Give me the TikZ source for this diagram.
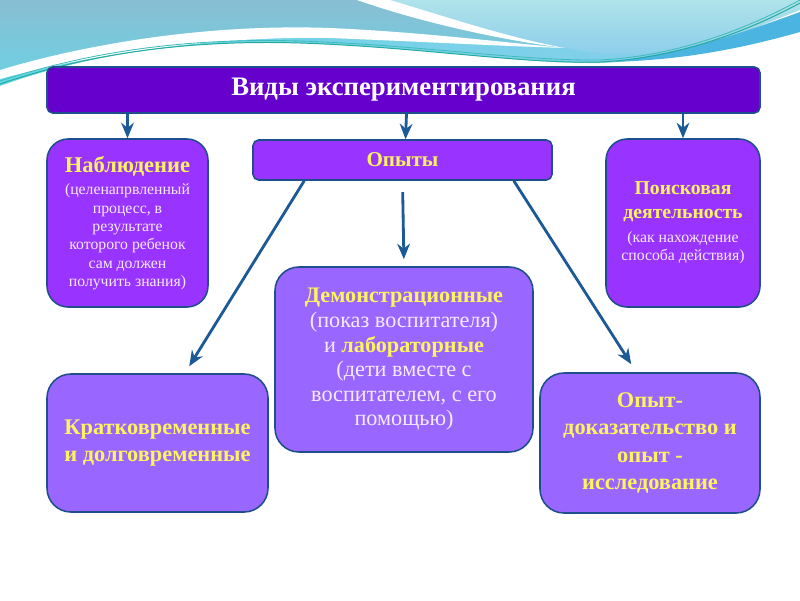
\documentclass[tikz,border=0pt]{standalone}
\usepackage{fontspec}
\setmainfont{Liberation Serif}
\usetikzlibrary{positioning, arrows.meta, calc}
\definecolor{vdark}{HTML}{6600CC}
\definecolor{vmid}{HTML}{9933FF}
\definecolor{vlight}{HTML}{9966FF}
\definecolor{vborder}{HTML}{1F4E8C}
\definecolor{varrow}{HTML}{1B5A96}
\definecolor{vyellow}{HTML}{FFF45C}
\definecolor{vnote}{HTML}{F6EAFF}
\definecolor{wsteel}{HTML}{88BED3}
\definecolor{wcyan}{HTML}{66D6E6}
\definecolor{wlight}{HTML}{B0E3EA}
\definecolor{wsky}{HTML}{8ACDEB}
\definecolor{wblue}{HTML}{4BB4E1}
\definecolor{wline}{HTML}{22AA9C}

\tikzset{
  kindbox/.style={draw=vborder, line width=1.1pt, align=center, inner sep=3pt},
  titlebox/.style={kindbox, fill=vdark, rounded corners=4pt, text=white,
    font=\bfseries\fontsize{19}{22}\selectfont},
  headbox/.style={kindbox, fill=vmid, rounded corners=15pt, text=vnote,
    font=\fontsize{11.2}{13}\selectfont},
  subbox/.style={kindbox, fill=vlight, rounded corners=17pt, text=vyellow,
    font=\bfseries\fontsize{15.9}{19.5}\selectfont},
  link/.style={draw=varrow, line width=2pt, -{Stealth[length=11pt, width=9pt]}},
}

\begin{document}
\begin{tikzpicture}[x=0.025cm, y=-0.025cm]
  \useasboundingbox (0,0) rectangle (800,600);
  \fill[white] (0,0) rectangle (800,600);

  % wave at the top
  \shade[left color=wcyan, right color=wsky]
    (0,0) -- (800,0) -- (800,8) .. controls (750,32) and (680,60) .. (600,63)
    .. controls (520,64) and (420,47) .. (300,43)
    .. controls (200,40) and (100,50) .. (0,86) -- cycle;
  \shade[top color=wsteel, bottom color=wcyan!70!wsteel]
    (0,0) -- (357,0) .. controls (420,22) and (500,40) .. (565,48)
    .. controls (500,42) and (420,32) .. (330,28)
    .. controls (220,24) and (100,40) .. (0,70) -- cycle;
  \fill[white]
    (0,70) .. controls (100,40) and (220,24) .. (330,28)
    .. controls (420,32) and (500,42) .. (565,48)
    .. controls (500,46) and (430,42) .. (330,38)
    .. controls (220,36) and (100,52) .. (0,79) -- cycle;
  \shade[top color=wlight, bottom color=wsky]
    (390,0) .. controls (450,18) and (510,38) .. (565,48)
    .. controls (610,57) and (650,56) .. (680,50)
    .. controls (730,38) and (770,22) .. (800,10) -- (800,0) -- cycle;
  \fill[white]
    (357,0) -- (390,0) .. controls (450,18) and (510,38) .. (565,48)
    .. controls (500,40) and (420,22) .. (357,0);
  \fill[wblue]
    (610,62) .. controls (690,52) and (750,30) .. (800,12) -- (800,32)
    .. controls (750,46) and (690,60) .. (610,62);
  \draw[wline, line width=0.7pt]
    (0,84) .. controls (100,50) and (200,40) .. (300,43)
    .. controls (420,47) and (520,64) .. (600,62)
    .. controls (680,58) and (750,30) .. (800,3);
  \draw[wline!60!wcyan, line width=0.6pt]
    (0,81) .. controls (100,48) and (200,38) .. (300,41)
    .. controls (420,45) and (520,61) .. (600,60)
    .. controls (680,56) and (750,27) .. (800,0);

  % boxes
  \node[titlebox, minimum width=713*0.025cm, minimum height=46*0.025cm]
    (kinds) at (403.5,90) {Виды экспериментирования};

  \node[headbox, minimum width=161*0.025cm, minimum height=168*0.025cm]
    (watch) at (127.5,223)
    {{\fontsize{16}{18}\selectfont\textcolor{vyellow}{\textbf{Наблюдение}}}\\[3pt]
     (целенапрвленный\\ процесс, в\\ результате\\ которого ребенок\\
     сам должен\\ получить знания)};

  \node[headbox, rounded corners=4pt, text=vyellow,
        font=\bfseries\fontsize{15}{18}\selectfont,
        minimum width=299*0.025cm, minimum height=40*0.025cm]
    (tests) at (402.5,160) {Опыты};

  \node[headbox, minimum width=154*0.025cm, minimum height=168*0.025cm]
    (search) at (683,223)
    {{\fontsize{14}{16.5}\selectfont\textcolor{vyellow}{\textbf{Поисковая}}}\\[4pt]
     {\fontsize{14}{16.5}\selectfont\textcolor{vyellow}{\textbf{деятельность}}}\\[4pt]
     (как нахождение\\ способа действия)};

  \node[subbox, text=vnote, font=\fontsize{15.8}{17.5}\selectfont,
        minimum width=258*0.025cm, minimum height=185*0.025cm]
    (demo) at (404,359.5)
    {\textcolor{vyellow}{\textbf{Демонстрационные}}\\
     (показ воспитателя)\\ и \textcolor{vyellow}{\textbf{лабораторные}}\\
     (дети вместе с\\ воспитателем, с его\\ помощью)};

  \node[subbox, minimum width=221*0.025cm, minimum height=138*0.025cm]
    (span) at (157.5,443) {Кратковременные\\ и долговременные};

  \node[subbox, minimum width=220*0.025cm, minimum height=140*0.025cm]
    (proof) at (650,443) {Опыт-\\ доказательство и\\ опыт -\\ исследование};

  % connectors
  \draw[link] (kinds.south -| watch.north) -- (watch.north);
  \draw[link] ($(kinds.south)+(3,0)$) -- ($(tests.north)+(3,0)$);
  \draw[link] (kinds.south -| search.north) -- (search.north);
  \draw[link, shorten <=8pt, shorten >=5pt] (tests.south) -- (demo.north);
  \draw[link] ($(tests.south west)+(52,0)$) -- ($(span.north west)+(143,-7)$);
  \draw[link] ($(tests.south east)+(-39,0)$) -- ($(proof.north west)+(92,-8)$);
\end{tikzpicture}
\end{document}
